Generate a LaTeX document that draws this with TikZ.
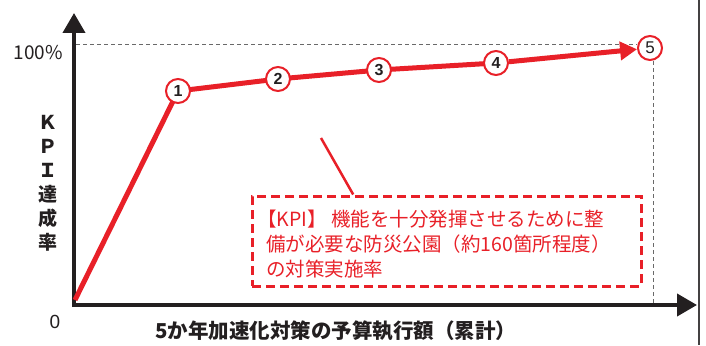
\documentclass[tikz,border=0pt]{standalone}
\usepackage{fontspec}
\setmainfont{Liberation Sans}
\newfontfamily\jp{Noto Sans CJK JP}
\usetikzlibrary{arrows.meta,backgrounds,calc}
\definecolor{kred}{RGB}{232,32,40}
\definecolor{kgray}{RGB}{105,105,105}
\definecolor{kblack}{RGB}{35,31,32}
\begin{document}
\begin{tikzpicture}[x=1pt,y=-1pt,
  axis/.style={draw=kblack,line width=4pt,-{Triangle[length=20pt,width=22pt]}},
  guide/.style={draw=kgray,line width=1pt,dash pattern=on 4pt off 3pt},
  kline/.style={draw=kred,line width=5pt,line join=round},
  pt/.style={circle,draw=kred,line width=2pt,fill=white,minimum size=24pt,inner sep=0pt,text=kblack,font=\bfseries\fontsize{16}{16}\selectfont},
  boxtxt/.style={anchor=base west,inner sep=0pt,text=kred,font=\jp\fontsize{19.5}{25}\selectfont},
  lbl/.style={inner sep=0pt,text=kblack}]
\useasboundingbox (0,0) rectangle (706,345);
% frame edge
\coordinate (ft) at (699,0);
\coordinate (fb) at (699,345);
\draw[kblack!85,line width=1.2pt] (ft) -- (fb);
% points
\node[pt] (c1) at (178,91) {1};
\node[pt] (c2) at (278,79) {2};
\node[pt] (c3) at (379,70) {3};
\node[pt] (c4) at (496,63) {4};
\node[pt,font=\fontsize{17}{17}\selectfont] (c5) at (650,48) {5};
% axes coordinates
\coordinate (xo) at (72,305);
\coordinate (xe) at (697,305);
\coordinate (yo) at (74,307);
\coordinate (ye) at (74,13);
\coordinate (o) at (75,300);
\coordinate (hy) at (76,45);
\coordinate (vx) at (653,61);
\begin{scope}[on background layer]
  \draw[guide] (hy) -- (hy -| c5.west);
  \draw[guide] (vx) -- (vx |- xo);
  \draw[axis] (xo) -- (xe);
  \draw[axis] (yo) -- (ye);
  \draw[kline] (o) -- (c1.center) -- (c2.center) -- (c3.center) -- (c4.center);
  \draw[kline,-{Triangle[length=17pt,width=18pt]}] (c4) -- (c5);
\end{scope}
% labels
\node[lbl,anchor=east,font=\jp\fontsize{19}{19}\selectfont] (p100) at (63,53) {100\%};
\node[lbl,font=\fontsize{19}{19}\selectfont] (zero) at (55,322) {0};
\node[lbl,align=center,font=\jp\bfseries\fontsize{19}{24}\selectfont] (yl) at (48,183) {Ｋ\\Ｐ\\Ｉ\\達\\成\\率};
\node[lbl,font=\jp\bfseries\fontsize{20.5}{20.5}\selectfont] (xl) at (336,331) {5か年加速化対策の予算執行額（累計）};
% callout
\node[draw=kred,line width=3pt,dash pattern=on 9pt off 5pt,minimum width=389pt,minimum height=90pt,inner sep=0pt] (box) at (446.5,241) {};
\coordinate (ptr) at (321,138);
\draw[kred,line width=2.5pt] (ptr) -- ($(box.north west)!0.262!(box.north east)$);
\node[boxtxt] (t1) at (257,226) {【KPI】 機能を十分発揮させるために整};
\node[boxtxt] (t2) at (266,251) {備が必要な防災公園（約160箇所程度）};
\node[boxtxt] (t3) at (266,276) {の対策実施率};
\end{tikzpicture}
\end{document}
